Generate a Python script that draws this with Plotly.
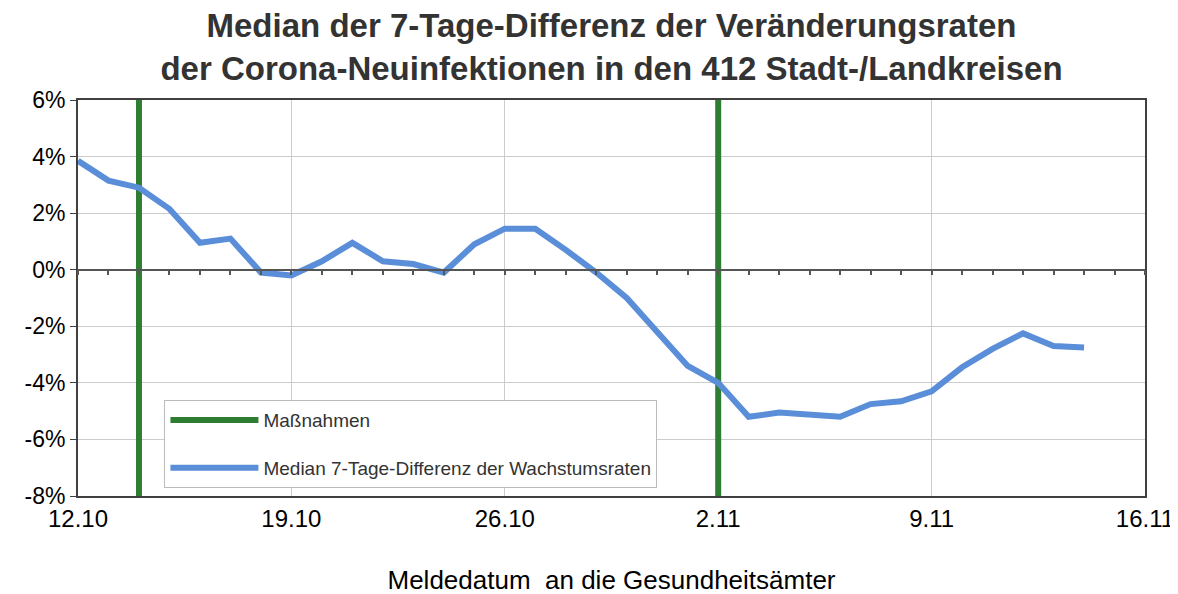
import plotly.graph_objects as go

dates = ["2020-10-12","2020-10-13","2020-10-14","2020-10-15","2020-10-16","2020-10-17","2020-10-18",
         "2020-10-19","2020-10-20","2020-10-21","2020-10-22","2020-10-23","2020-10-24","2020-10-25",
         "2020-10-26","2020-10-27","2020-10-28","2020-10-29","2020-10-30","2020-10-31","2020-11-01",
         "2020-11-02","2020-11-03","2020-11-04","2020-11-05","2020-11-06","2020-11-07","2020-11-08",
         "2020-11-09","2020-11-10","2020-11-11","2020-11-12","2020-11-13","2020-11-14"]
median_diff = [3.85, 3.15, 2.9, 2.15, 0.95, 1.1, -0.1, -0.2, 0.3, 0.95, 0.3, 0.2, -0.1, 0.9,
               1.45, 1.45, 0.7, -0.1, -1.0, -2.2, -3.4, -4.0, -5.2, -5.05, -5.1, -5.2, -4.75,
               -4.65, -4.3, -3.45, -2.8, -2.25, -2.7, -2.75]
measure_dates = ["2020-10-14", "2020-11-02"]
tick_dates = ["2020-10-12","2020-10-19","2020-10-26","2020-11-02","2020-11-09","2020-11-16"]
tick_labels = ["12.10","19.10","26.10","2.11","9.11","16.11"]
y_ticks = [6, 4, 2, 0, -2, -4, -6, -8]
y_labels = [f"{v}%" for v in y_ticks]

fig = go.Figure()

mx, my = [], []
for d in measure_dates:
    mx += [d, d, None]
    my += [-8, 6, None]
fig.add_trace(go.Scatter(x=mx, y=my, mode="lines", name="Maßnahmen",
                         line=dict(color="#2e7d32", width=6), legendgroup="a",
                         hoverinfo="skip"))
fig.add_trace(go.Scatter(x=dates, y=median_diff, mode="lines",
                         name="Median 7-Tage-Differenz der Wachstumsraten",
                         line=dict(color="#5b8ed8", width=6), legendgroup="b"))
# invisible trace for the zero-line axis
fig.add_trace(go.Scatter(x=[dates[0]], y=[0], xaxis="x2", mode="markers",
                         marker=dict(opacity=0), showlegend=False, hoverinfo="skip"))

fig.update_layout(
    width=1178, height=594,
    margin=dict(l=70, r=41, t=92, b=106),
    paper_bgcolor="white", plot_bgcolor="white",
    font=dict(family="Liberation Sans, Arial, sans-serif", color="#000"),
    title=dict(text="<b>Median der 7-Tage-Differenz der Veränderungsraten<br>der Corona-Neuinfektionen in den 412 Stadt-/Landkreisen</b>",
               x=0.5, xanchor="center", xref="paper", y=0.951, yanchor="middle",
               font=dict(size=33, color="#333")),
    xaxis=dict(type="date", range=["2020-10-12", "2020-11-16"],
               tickvals=tick_dates, ticktext=tick_labels,
               showgrid=True, gridcolor="#cccccc", gridwidth=1,
               showline=True, linecolor="#404040", linewidth=2, mirror=True,
               ticks="", tickfont=dict(size=24, color="#000"),
               title=dict(text="Meldedatum  an die Gesundheitsämter", font=dict(size=26, color="#000"),
                          standoff=40),
               zeroline=False, automargin=False),
    xaxis2=dict(type="date", range=["2020-10-12", "2020-11-16"], overlaying="x",
                anchor="free", position=8/14, showticklabels=False, showgrid=False,
                showline=True, linecolor="#555", linewidth=1.5,
                ticks="outside", ticklen=5, tickcolor="#555", tickwidth=1.5,
                tick0="2020-10-12", dtick=86400000, automargin=False),
    yaxis=dict(range=[-8, 6], tickvals=y_ticks, ticktext=y_labels,
               showgrid=True, gridcolor="#cccccc", gridwidth=1,
               showline=True, linecolor="#404040", linewidth=2, mirror=True,
               ticks="outside", ticklen=6, tickcolor="#404040",
               tickfont=dict(size=23, color="#000"), zeroline=False, automargin=False),
    legend=dict(x=0.081, y=0.242, xanchor="left", yanchor="top",
                bgcolor="white", bordercolor="#bbbbbb", borderwidth=1,
                font=dict(size=19, color="#333"), traceorder="grouped",
                tracegroupgap=20, itemwidth=88),
    showlegend=True,
)

fig.write_html("out.html")
